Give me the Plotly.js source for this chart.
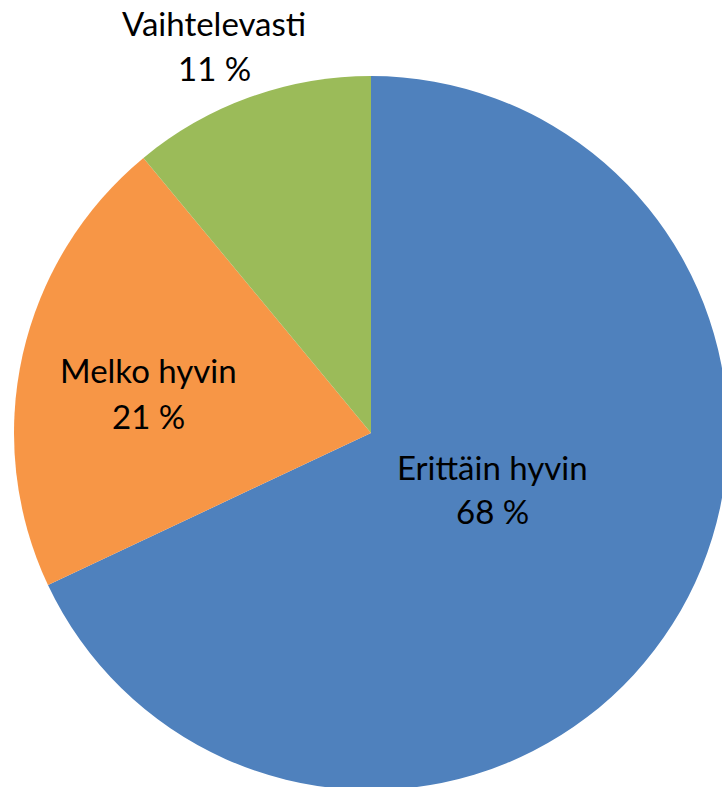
<!DOCTYPE html>
<html>
<head>
<meta charset="utf-8">
<script src="https://cdn.plot.ly/plotly-3.0.1.min.js"></script>
<style>
html, body { margin: 0; padding: 0; overflow: hidden; background: #ffffff; }
#chart { position: absolute; left: 0; top: 0; }
</style>
</head>
<body>
<div id="chart"></div>
<script>
// Data
const categories = ["Erittäin hyvin", "Melko hyvin", "Vaihtelevasti"];
const values = [68, 21, 11];
const colors = ["#4F81BD", "#F79646", "#9BBB59"];

// Layout geometry (pixels in the page)
const W = 740, H = 800;
const M = { l: 14, r: 12, t: 76, b: 10 };
const plotW = W - M.l - M.r, plotH = H - M.t - M.b;
function px(x) { return (x - M.l) / plotW; }
function py(y) { return (H - M.b - y) / plotH; }

// label placement (page pixels) for name line and value line
const labelPos = [
  { x: 493, yName: 467, yVal: 511 },
  { x: 148, yName: 370, yVal: 416 },
  { x: 214, yName: 23,  yVal: 68 }
];

const font = { family: "Lato, 'Open Sans', sans-serif", size: 33, color: "#000000" };
const annotations = [];
categories.forEach((c, i) => {
  const p = labelPos[i];
  annotations.push({ text: c, x: px(p.x), y: py(p.yName), xref: "paper", yref: "paper",
    xanchor: "center", yanchor: "middle", showarrow: false, font: font });
  annotations.push({ text: values[i] + " %", x: px(p.x), y: py(p.yVal), xref: "paper", yref: "paper",
    xanchor: "center", yanchor: "middle", showarrow: false, font: font });
});

const trace = {
  type: "pie",
  labels: categories,
  values: values,
  sort: false,
  direction: "clockwise",
  rotation: 0,
  textinfo: "none",
  hoverinfo: "skip",
  marker: { colors: colors, line: { width: 0 } },
  domain: { x: [0, 1], y: [0, 1] }
};

const layout = {
  width: W, height: H,
  margin: M,
  showlegend: false,
  paper_bgcolor: "#ffffff",
  plot_bgcolor: "#ffffff",
  annotations: annotations
};

Plotly.newPlot("chart", [trace], layout, { displayModeBar: false, staticPlot: true });
</script>
</body>
</html>
